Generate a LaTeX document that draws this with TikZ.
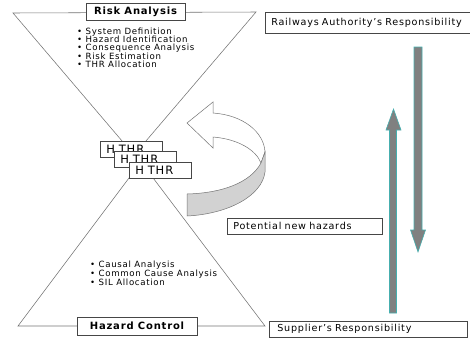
\documentclass[tikz,border=0pt]{standalone}
\usepackage{fontspec}
\setmainfont{DejaVu Sans}[LetterSpace=8]
\definecolor{hourglass}{RGB}{115,115,115}
\definecolor{boxline}{RGB}{70,70,70}
\definecolor{shaft}{RGB}{128,128,128}
\definecolor{rim}{RGB}{70,175,175}
\definecolor{band}{RGB}{210,210,210}

\begin{document}
\begin{tikzpicture}[x=1pt,y=-1pt]
	\tikzset{
		box/.style={draw=boxline, fill=white, line width=0.6pt, inner ysep=0pt, minimum height=16pt},
		lbox/.style={box, anchor=north west, align=left, inner xsep=6pt, font=\fontsize{9.6}{10}\selectfont},
		thr/.style={lbox, text width=50pt, font=\fontsize{11.5}{12}\selectfont},
		item/.style={anchor=base west, inner sep=0pt, font=\fontsize{8.6}{9}\selectfont},
		blockarrow/.style={draw=rim, fill=shaft, line width=0.6pt},
		ribbon/.style={draw=black!55, line width=0.5pt}
	}
	\useasboundingbox (0,0) rectangle (470,338);
	% the two triangles of the hourglass
	\coordinate (top-l) at (13,13);
	\coordinate (top-r) at (256,12);
	\coordinate (top-c) at (134,155);
	\coordinate (bot-l) at (18,326);
	\coordinate (bot-r) at (265,326);
	\coordinate (bot-c) at (141,162);
	\draw[hourglass, line width=0.55pt] (top-l) -- (top-r) -- (top-c) -- cycle;
	\draw[hourglass, line width=0.55pt] (bot-l) -- (bot-r) -- (bot-c) -- cycle;
	\node[box, minimum width=99pt, minimum height=17pt, font=\bfseries\fontsize{10}{11}\selectfont] (risk) at (135.5,11.5) {Risk Analysis};
	\node[box, minimum width=120pt, minimum height=18pt, font=\bfseries\fontsize{10}{11}\selectfont] (control) at (137,326) {Hazard Control};
	\foreach \t [count=\i] in {System Definition, Hazard Identification, Consequence Analysis, Risk Estimation, THR Allocation}
		\node[item] (ra\i) at (77,25.9+8.35*\i) {\textbullet\ \t};
	\foreach \t [count=\i] in {Causal Analysis, Common Cause Analysis, SIL Allocation}
		\node[item] (hc\i) at (90,258.3+9*\i) {\textbullet\ \t};
	% stacked hazard records
	\foreach \x/\y [count=\i] in {100/141, 114/151, 129/162}
		\node[thr] (thr\i) at (\x,\y) {H THR};
	% feedback arrow
	\draw[ribbon, fill=white] (187,123) -- (213,102) -- (213,113) .. controls (243,115) and (264,132) .. (265,152)
		-- (261,163) .. controls (256,150) and (238,139) .. (213,137) -- (213,148) -- cycle;
	\draw[ribbon, fill=band] (261,163) -- (265,152) -- (265,172) .. controls (262,196) and (228,214) .. (187,216)
		-- (187,194) .. controls (222,193) and (250,183) .. (261,163) -- cycle;
	% responsibility arrows
	\draw[blockarrow] (389.5,313) -- (389.5,130) -- (386,130) -- (393.5,109) -- (401,130) -- (396.5,130) -- (396.5,313) -- cycle;
	\draw[blockarrow] (414,47) -- (414,230) -- (410.5,230) -- (418,252) -- (425.5,230) -- (422,230) -- (422,47) -- cycle;
	\node[lbox, text width=194pt, minimum height=21pt] (authority) at (265,12) {\mbox{Railways Authority's Responsibility}};
	\node[lbox, text width=143pt] (newhaz) at (227,218) {Potential new hazards};
	\node[lbox, text width=182pt, inner xsep=8pt] (supplier) at (269,321) {Supplier's Responsibility};
\end{tikzpicture}
\end{document}
